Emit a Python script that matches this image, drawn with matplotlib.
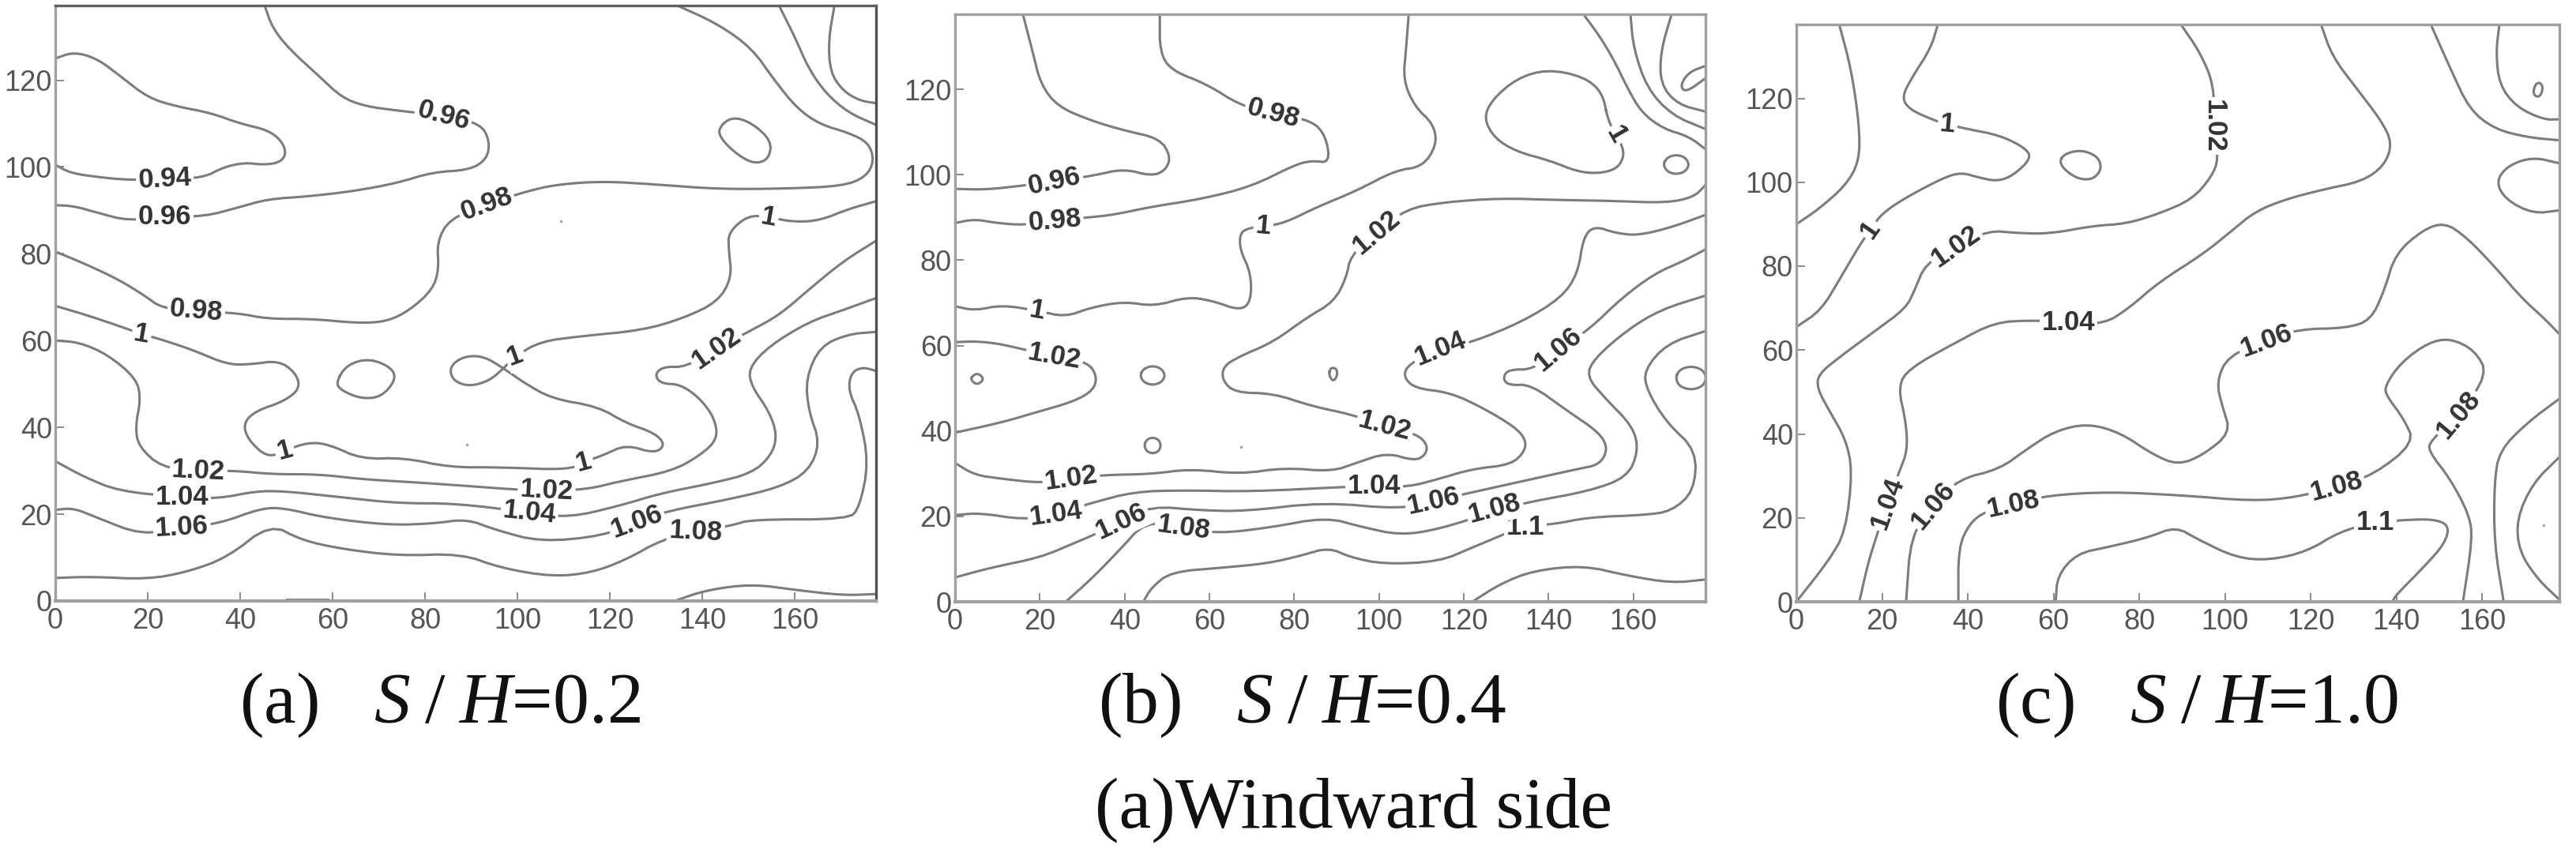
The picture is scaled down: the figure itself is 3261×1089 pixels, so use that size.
import matplotlib
matplotlib.use('Agg')
import matplotlib.pyplot as plt

plt.rcParams['font.family'] = 'Liberation Sans'
plt.rcParams['mathtext.fontset'] = 'custom'
plt.rcParams['mathtext.rm'] = 'Liberation Serif'
plt.rcParams['mathtext.it'] = 'Liberation Serif:italic'

x_ticks = [0, 20, 40, 60, 80, 100, 120, 140, 160]
y_ticks = [0, 20, 40, 60, 80, 100, 120]
captions = ['(a)', '(b)', '(c)']
ratios = ['0.2', '0.4', '1.0']
side_title = '(a)Windward side'

# panel a, S/H=0.2
a_094 = [(0,100.5),(3.3,98.6),(9,97.7),(15.7,97),(23.7,97.2),(32,97.5),(36.5,100),(41,101),(45,100.5),(48.5,101),(50,103),(49,106),(46,108.5),(40,110),(33.5,112.5),(26,114),(20,116),(14,121),(9,125),(4,126.5),(0,125)]
a_096 = [(45.3,137.2),(47,132),(50.8,127),(57,121),(62,116),(67,114),(74,113),(84,111.8),(92,110),(94,106),(93.4,101.8),(89.6,99.3),(81.6,98.8),(74,96.3),(64.4,94.4),(54.5,93.2),(46,92.6),(39.7,90.7),(32.3,88.6),(23.7,88.6),(15.7,87.6),(9,89.5),(4,91),(0,91.2)]
a_098 = [(0,80.5),(6.4,77.7),(13.8,74),(19.4,70.3),(23,67.5),(30.5,66.8),(39.7,66.3),(45.9,65),(55.7,65),(65.6,64),(71.8,64.4),(76.7,67),(81.6,71.7),(83,76.3),(82.6,82.8),(85.3,88),(93.3,91.4),(102,94.4),(108.7,96),(118.6,96.7),(129.7,96),(143.3,94.9),(158,95),(170.4,95.6),(175.4,97.7),(177.2,101.4),(176,105.6),(171.6,107.9),(165.5,109.8),(160.5,113.5),(155.6,120),(150.7,127.4),(143.3,133),(134.6,137.2)]
a_1 = [(0,68),(6.4,66),(12.6,63.8),(18.7,61.5),(23.7,60),(29.8,57.8),(37.2,54.5),(42.2,54.5),(48.3,55.4),(52,52.6),(53,49),(49.5,46),(43.4,43.8),(40.7,41),(41.6,37.3),(45.9,33),(49.6,34.7),(55,36.6),(59.4,36),(66.2,32.7),(75.5,33),(85.3,30.8),(96.4,30.8),(111,30.2),(114.3,32),(118.6,33.6),(123.5,36),(129.7,34),(132,36),(129.7,38.7),(123.5,41),(117.4,44.8),(107.5,46.6),(101.4,50.3),(97,53.6),(92.7,56.4),(88.4,56.4),(85.3,54),(86,50.8),(89.6,49.4),(94,50.8),(97,53.6),(99.5,56.4),(105,59.8),(113.7,61),(127.2,62.4),(136,65.2),(143.3,68.9),(146.4,74.5),(145.7,81),(145.7,85),(150,88.9),(154.4,88.4),(160,87.3),(165.5,87.7),(171.6,90.3),(177.6,92.1)]
a_102 = [(0,60),(5.2,59.6),(11.3,56.8),(17.5,51.3),(18.5,46.6),(17.3,40),(18.1,35.5),(23,30.8),(31,30),(39,30),(47,29.2),(57,29.2),(66.8,28),(81.6,27.1),(98.9,25.7),(106.3,25.4),(115,25.7),(122.3,27.6),(133.4,29.9),(139.6,33.6),(143.3,37.3),(142.7,42),(139.6,46.6),(135.3,49.9),(131,50.1),(129.7,52.2),(131.6,54),(136.5,53.9),(143,58.2),(150.7,62.4),(156.8,66),(163,71.7),(170.4,78.2),(177.6,83)]
a_104 = [(0,32.2),(6.4,28.5),(13.8,25.3),(27.4,23.9),(35.4,23.6),(43.4,25.3),(49.6,25.3),(61.9,23.9),(74.2,22.5),(86.6,22.5),(102.6,20.4),(111.2,19.2),(122.3,22),(131,24.8),(142,27.1),(150.7,29.4),(155,33.6),(156.2,38.3),(154.4,43.8),(150.7,49.4),(150,53.6),(154.4,58.7),(163,64.3),(170.4,67),(177.6,69.8)]
a_106 = [(0,21),(4,21.4),(9,19.2),(18.7,15.2),(27.4,17),(35.4,17.8),(44.6,21.4),(49.6,21.4),(58.2,19.2),(71.8,17.5),(81.6,17.8),(89,18.9),(95.2,16.4),(105,13.6),(118.6,15),(125.8,18.3),(132.8,20.8),(145.7,23.4),(156.8,26.2),(163,29.9),(165.5,36.4),(163,43.8),(162.4,51.3),(165.5,58.7),(171.6,61.5),(177.6,62)]
a_108 = [(0,5.3),(7.7,5.6),(20,5),(28.6,6.7),(37.2,10),(46.5,17.8),(53.3,14),(61.9,12),(74.2,10.4),(87.8,10.9),(96.4,7.6),(107.5,5.6),(116,6.5),(123.5,9.5),(131,14),(138.6,16),(146.4,17.4),(150.7,18.8),(171.6,18.8),(174,21.5),(176,31.8),(174,42.9),(171.6,48.5),(172.2,52.6),(174.7,53.9),(177.6,53)]
a_11 = [(134,0),(140.8,2.5),(150.7,3.9),(160.5,2.5),(170.4,1.3),(177.6,1.6)]
a_top1 = [(156.6,137.2),(160,130),(163,122.7),(166.7,117),(171.6,112.5),(177.6,109.7)]
a_top2 = [(168.6,137.2),(167.3,129.2),(167.7,121.8),(170.4,117.6),(174,115.3),(177.6,114.7)]
a_base = [(50,0.4),(59,0.4)]
a_lines = [a_094, a_096, a_098, a_1, a_102, a_104, a_106, a_108, a_11, a_top1, a_top2, a_base]
a_ring1 = [(143.5,109),(146.4,111.6),(150.7,110.2),(155,106),(154.4,101.8),(151.3,100.7),(147.6,102.8),(144,106.5)]
a_ring2 = [(60.7,50.3),(63.1,54.5),(68.1,55.9),(73,53.6),(73.6,50.8),(70.5,47),(66.2,46.6),(61.9,48.5)]
a_rings = [a_ring1, a_ring2]
a_specks = [(109.4,87.6),(89,36)]
a_labels = [(23.7,97.2,'0.94',3),(84,111.8,'0.96',-15),(23.7,88.6,'0.96',0),(93.3,91.4,'0.98',20),(30.5,66.8,'0.98',-5),
            (18.7,61.5,'1',-10),(49.6,34.7,'1',15),(114.3,32,'1',15),(99.5,56.4,'1',20),(154.4,88.4,'1',-10),
            (31,30,'1.02',-3),(106.3,25.4,'1.02',-3),(143,58.2,'1.02',35),(27.4,23.9,'1.04',0),(102.6,20.4,'1.04',-6),
            (27.4,17,'1.06',3),(125.8,18.3,'1.06',20),(138.6,16,'1.08',-3)]

# panel b, S/H=0.4
b_096 = [(0,96.7),(7.2,96.5),(16.3,97.5),(23.5,98.4),(32.6,99.8),(39.8,101.4),(46.3,99.7),(49.6,101),(50.9,104.2),(48.3,108.5),(39.8,110.4),(32,112.7),(24.2,116),(20.2,121.2),(18.3,128.8),(16,137.6)]
b_098 = [(0,88.7),(4.6,89.6),(9.8,88.7),(16.3,88.2),(23.5,89.3),(31.3,90),(37.2,90.6),(46.3,92.5),(58,94.3),(69.8,97.2),(80.3,102.4),(84.2,103.3),(88.4,102.8),(87.5,109),(84.2,112.7),(75,114.3),(67.2,116.3),(59.4,121.2),(50.9,124.5),(48.3,128.8),(48.3,137.6)]
b_1 = [(0,69.2),(4.6,68.2),(11,69.5),(19.3,68.2),(26,66.7),(32,68.9),(39.8,70.3),(47,69.2),(54.8,71.4),(60.7,70.5),(67.2,68.2),(69.8,70.3),(69.8,76.9),(67.2,82.5),(67.2,86.3),(69.2,87.5),(72.7,87.9),(77.7,88.7),(85.5,92.5),(94.6,96.2),(103.8,101),(110.3,101.9),(113.6,107),(112.9,111.8),(108.4,116),(105.7,122.2),(106.4,129.7),(107,137.6)]
b_102a = [(0,60.8),(5.2,61),(10.5,60.4),(15.7,59.2),(23.5,57.5),(31.3,56.1),(33.5,52.8),(32.6,49.5),(28,46.9),(18.9,44.3),(11,42),(0,39.6)]
b_102b = [(0,32.5),(4.6,29.7),(11,28.8),(20.2,27.8),(27.4,28.8),(35,29.7),(46.3,29.9),(55.5,31.1),(67.2,29.9),(77.7,31.4),(88.8,30.5),(94.6,32.5),(101.8,34.9),(108.4,33),(111,34.4),(111.4,36.8),(109,39.2),(101.4,41.2),(93.3,43.9),(84.2,45.8),(75,48.8),(66,49),(63,51.9),(63.3,55.2),(67.2,57.5),(75,60.8),(82.9,66.5),(89.4,70.3),(92.3,75.9),(93.3,81.1),(99.5,86.5),(106.4,92),(115.5,93.6),(128.6,94.5),(141.6,94.1),(154.7,93.9),(167.8,93.4),(174.3,94.8),(177,97.6)]
b_104 = [(0,20.3),(5.9,20.8),(16.3,19.2),(23.9,20.5),(32,23.1),(42.4,25.8),(54.2,26.1),(69.8,25.8),(92,26.9),(98.8,27.1),(107,26.9),(114.2,28.8),(122,31.1),(131.2,32.1),(134.5,35.4),(134.5,38.2),(131.9,41),(124.7,45.3),(116.8,49),(108.4,50),(105.7,52.8),(107,55.7),(114.5,59.2),(122,60.8),(133.8,65.6),(143,71.2),(146.9,76.9),(148.2,85.4),(150.8,88),(156,86.3),(161.2,85.8),(169,87.7),(177,90.6)]
b_106 = [(0,5.7),(8.5,8),(20.2,10.4),(28,13.7),(32.6,15.6),(39.2,18.9),(46.3,22.4),(58,21.4),(68.5,21.2),(86.8,23.3),(105,21.7),(112.9,23.6),(121.4,25.5),(136.4,28.8),(146.9,31.1),(152,32.1),(154,35.8),(152,39.6),(144.3,44.8),(135.8,50.9),(130.5,50.7),(129.2,52.4),(130.5,54.4),(136.4,54.4),(142.3,59.2),(149.5,63.7),(157.3,71.2),(165.1,76.9),(171.6,79.7),(177,82.5)]
b_108 = [(26.1,0),(32,5.2),(38.5,11.8),(45,18.9),(53.9,17.3),(62,16),(73.8,17.3),(87.5,19.8),(96,17.5),(105,15.6),(114.2,17),(127.3,21.2),(135,23.3),(149.5,25.9),(158.6,29.2),(161.2,35.4),(159.9,41),(153.4,47.6),(148.9,52.8),(150.8,57),(158.6,63.7),(166.4,68.4),(177,71.7)]
b_11 = [(44.4,0),(46.3,3.3),(50.9,7),(63.3,8),(73.8,9),(81.6,10.8),(88.1,12.7),(93.3,10.4),(101.2,8.8),(114.2,9.4),(122,12.7),(134.5,17.9),(141,18.1),(149.5,19.8),(162.5,20.3),(169,21.2),(174.3,25.9),(174.9,35.4),(167.8,42),(163.2,49.5),(162.5,54.2),(167.8,60.4),(177,63.4)]
b_low = [(122,0),(128.6,4.2),(136.4,7.3),(148.2,8.5),(158.6,6.1),(169,4.4),(177,5.2)]
b_top1 = [(148.2,137.6),(152,132.5),(155.4,126.9),(158.6,120.3),(161.9,114.6),(167,110.8),(173,109),(177,106)]
b_top2 = [(159.3,137.6),(160,129.7),(163.2,120.3),(169,114),(177,110.7)]
b_top3 = [(169,137.6),(166.4,128.8),(166.4,121.2),(170.4,116.5),(177,114.8)]
b_top4 = [(177,125.5),(173,124),(171,120.8),(172.4,119.3),(177,122.6)]
b_lines = [b_096, b_098, b_1, b_102a, b_102b, b_104, b_106, b_108, b_11, b_low, b_top1, b_top2, b_top3, b_top4]
b_blob = [(154,112.7),(152.7,119.3),(148.2,123),(139.7,124.7),(132.5,122.6),(126.6,117.5),(124.7,113.2),(127.3,108.5),(132.5,105.4),(140.3,103.3),(146.9,100.7),(152,100.3),(156,101.4),(157.6,103.8),(157.6,106.1),(156,109.4)]
b_ring1 = [(3.7,52.2),(4.4,53.1),(5.2,53.4),(6,53.1),(6.7,52.2),(6,51.3),(5.2,51),(4.4,51.3)]
b_ring2 = [(43.6,53),(44.5,54.6),(46.6,55.3),(48.7,54.6),(49.6,53),(48.7,51.4),(46.6,50.7),(44.5,51.4)]
b_ring3 = [(44.6,36.6),(45.2,38),(46.6,38.5),(48,38),(48.6,36.6),(48,35.2),(46.6,34.7),(45.2,35.2)]
b_ring4 = [(88.2,53.3),(88.5,54.6),(89.2,54.8),(89.9,54.6),(90.2,53.3),(89.7,52.2),(89.2,51.8),(88.7,52.2)]
b_ring5 = [(167,102.4),(168,104.1),(170.1,104.7),(172.2,104.1),(173.2,102.4),(172.2,100.7),(170.1,100.1),(168,100.7)]
b_ring6 = [(169.9,52.4),(170.9,54.4),(173.6,55.2),(176.3,54.4),(177.3,52.4),(176.3,50.4),(173.6,49.6),(170.9,50.4)]
b_rings = [b_blob, b_ring1, b_ring2, b_ring3, b_ring4, b_ring5, b_ring6]
b_specks = [(67.5,36.3)]
b_labels = [(134.5,17.4,'1.1',0),(23.5,98.4,'0.96',12),(75,114.3,'0.98',-15),(23.5,89.3,'0.98',5),(19.3,68.2,'1',-10),(72.7,87.9,'1',-5),(156,109.4,'1',-60),
            (23.5,57.5,'1.02',-10),(27.4,28.8,'1.02',8),(101.4,41.2,'1.02',-15),(99.5,86.5,'1.02',40),(23.9,20.5,'1.04',8),(98.8,27.1,'1.04',0),
            (114.5,59.2,'1.04',22),(39.2,18.9,'1.06',25),(112.9,23.6,'1.06',12),(142.3,59.2,'1.06',40),(53.9,17.3,'1.08',-8),(127.3,21.8,'1.08',15)]

# panel c, S/H=1.0
c_1a = [(10,137.6),(12.8,127),(14.7,113.6),(14.7,105),(11.5,99.2),(5.1,93.5),(0,90)]
c_1b = [(33,137.6),(31.4,132),(27,125),(24.6,120.3),(26.3,117.4),(32,114.8),(35.3,113.8),(39.8,112.7),(47.4,111.2),(53.2,108.3),(54.9,105.8),(50.6,101.6),(46.8,100.2),(42.3,101.2),(38.5,102.3),(34.6,101.2),(25.6,96.4),(19.9,92.5),(17.3,88.7),(14.7,84.9),(10.3,77.2),(5.8,69.5),(0,65.5)]
c_102 = [(89.7,137.6),(94.2,130.9),(97.4,123.2),(97.4,113.4),(98.5,105.5),(96.8,101.2),(92.3,95.9),(84.6,92.5),(76.9,90.1),(69.2,89.6),(59,87.7),(51.3,87.9),(44.9,88.5),(37.2,84.7),(30.1,80.5),(27.6,74.3),(25.6,70),(17.9,64.2),(10.3,58.5),(5.1,54.2),(4.9,50.8),(7.7,45.5),(11.5,38.8),(13.1,31.2),(11.5,16.8),(7.7,10),(0,0)]
c_104 = [(122.4,137.6),(125,130),(130.8,122.2),(136.5,114.6),(139,109.3),(137.2,104),(132,100.2),(123,98.3),(114,95.9),(107,93),(101.3,88.2),(94.9,82.9),(84.6,76.2),(77.6,70),(71.8,66.2),(63.5,66.6),(55.1,67.1),(46.2,66.6),(37.2,61.8),(26.3,55.6),(23.7,51.3),(25.6,42.7),(25.9,36),(24.1,31.2),(21.2,23.5),(18.6,15.3),(16.7,9.1),(14.7,0)]
c_106a = [(148,137.6),(152.6,127),(157,117.4),(162.8,112.7),(170.5,110.7),(178,110)]
c_106b = [(25.6,0),(26.7,15.8),(32,23),(37.8,29.2),(47.4,31.6),(53.8,36.4),(60.3,40.7),(67.9,42.5),(75.6,40.3),(83.3,35),(89.1,32.6),(94.9,35),(101.3,40.3),(99.4,46.5),(98,52.3),(100.6,58.5),(109.6,62.3),(117.3,65),(128.2,65.2),(134,67.1),(137.2,74.3),(139.7,82.9),(146.2,88.7),(151.3,90.4),(156.4,86.8),(162.8,80),(169.2,72.4),(174.4,67.6),(178,63.8)]
c_108 = [(37.8,0),(37.8,12.9),(40.4,18.7),(44.2,21.6),(50.6,23.3),(59,25.4),(73,26.2),(89.7,25.4),(106.4,24),(116.7,24.9),(126,27.5),(134.6,30.2),(144.2,37.9),(141.7,43.6),(137.8,48.9),(137.2,51.3),(141,57),(147.4,61.8),(152.6,62.8),(158.3,59.9),(161.3,54.2),(154.5,44.6),(148,38.4),(147.4,36),(152.6,29.2),(157,20.6),(157.7,14.9),(155.5,0)]
c_11 = [(60.5,0),(60.9,6.2),(65.4,11.5),(73,13.1),(82,15.3),(88.5,17.9),(93.6,14.9),(102.6,10.5),(110.3,9.9),(119.2,12),(126.9,16.8),(135,18.9),(141.7,19.5),(148.7,19.7),(152.3,18.2),(151.3,13.9),(146.2,8.1),(139.7,1.4),(139.1,0)]
c_top = [(164,137.6),(163.2,130.9),(164,123.2),(168,117.9),(174.4,114.9),(178,115)]
c_side = [(178,104.5),(171.8,106),(166,104),(163.2,100.2),(165.4,95.9),(171.8,92.5),(178,93.3)]
c_low1 = [(178,48.4),(170.5,42.7),(164,36),(162.8,28.3),(162.8,13.9),(165,0)]
c_low2 = [(178,34.5),(171.8,28.3),(168,19.7),(168.6,12),(173,5.3),(178,0.5)]
c_lines = [c_1a, c_1b, c_102, c_104, c_106a, c_106b, c_108, c_11, c_top, c_side, c_low1, c_low2]
c_ring1 = [(61.3,105),(62.8,106.9),(66.7,107.7),(70.5,106),(71.2,103),(69.2,100.7),(66,100.7),(62.8,102.7)]
c_ring2 = [(171.9,121),(172.2,123),(173.2,123.9),(174.1,123),(173.9,121.2),(173,120.2)]
c_rings = [c_ring1, c_ring2]
c_specks = [(174.4,18.2)]
c_labels = [(35.3,113.8,'1',-5),(17.3,88.7,'1',55),(97.4,113.4,'1.02',-90),(37.2,84.7,'1.02',35),(63.5,66.6,'1.04',0),(21.2,23.5,'1.04',70),
            (109.6,62.3,'1.06',20),(32,23,'1.06',50),(50.6,23.3,'1.08',12),(126,27.5,'1.08',15),(154.5,44.6,'1.08',50),(135,18.9,'1.1',0)]

panels = [
    (a_lines, a_rings, a_specks, a_labels, [70, 1109, 7, 761], 177.6, 137.2, 557),
    (b_lines, b_rings, b_specks, b_labels, [1209, 2159, 18, 762], 177, 137.6, 1648),
    (c_lines, c_rings, c_specks, c_labels, [2274, 3240, 31, 762], 178, 137.6, 2781),
]
W, H = 3262, 1089


def smooth(pts, closed=False):
    for i in range(2):
        new = [] if closed else [pts[0]]
        n = len(pts) if closed else len(pts) - 1
        for j in range(n):
            p, q = pts[j], pts[(j + 1) % len(pts)]
            new.append((0.75*p[0] + 0.25*q[0], 0.75*p[1] + 0.25*q[1]))
            new.append((0.25*p[0] + 0.75*q[0], 0.25*p[1] + 0.75*q[1]))
        if closed:
            pts = new
        else:
            new.append(pts[-1])
            pts = new
    if closed:
        pts = pts + [pts[0]]
    return pts


fig = plt.figure(figsize=(W/100, H/100), dpi=100)
line_col = '#7c7c7c'

for k, (lines, rings, specks, labels, box, xmax, ymax, cap_x) in enumerate(panels):
    l, r, t, b = box
    ax = fig.add_axes([l/W, 1 - b/H, (r - l)/W, (b - t)/H])
    ax.set_xlim(0, xmax)
    ax.set_ylim(0, ymax)
    for c in lines:
        pts = smooth(c)
        ax.plot([p[0] for p in pts], [p[1] for p in pts], color=line_col, lw=2.2, zorder=2)
    for c in rings:
        pts = smooth(c, closed=True)
        ax.plot([p[0] for p in pts], [p[1] for p in pts], color=line_col, lw=2.2, zorder=2)
    for s in specks:
        ax.plot([s[0]], [s[1]], 'o', ms=2.5, color='#a0a0a0', mew=0, zorder=2)
    for x, y, txt, rot in labels:
        ax.text(x, y, txt, fontsize=25, fontweight='bold', color='#333333', rotation=rot,
                rotation_mode='anchor', ha='center', va='center', zorder=3,
                bbox=dict(fc='white', ec='none', pad=2))
    ax.set_xticks(x_ticks)
    ax.set_yticks(y_ticks)
    ax.tick_params(direction='in', length=8, width=1.2, color='#777777', labelcolor='#555555', labelsize=26)
    ax.tick_params(axis='x', pad=6)
    ax.tick_params(axis='y', pad=3)
    for name in ax.spines:
        ax.spines[name].set_color('#a0a0a0')
        ax.spines[name].set_linewidth(2.4)
    ax.spines['bottom'].set_linewidth(3)
    if k == 0:
        ax.spines['right'].set_color('#505050')
        ax.spines['top'].set_color('#606060')
    fig.text(cap_x/W, 1 - 893/H, captions[k] + r'   $\mathit{S}\;/\;\mathit{H}$=' + ratios[k],
             fontsize=66, family='Liberation Serif', color='#111111', ha='center', va='center')

fig.text(1714/W, 1 - 1026/H, side_title, fontsize=66, family='Liberation Serif',
         color='#111111', ha='center', va='center')

fig.savefig('out.png', dpi=100, facecolor='white')
